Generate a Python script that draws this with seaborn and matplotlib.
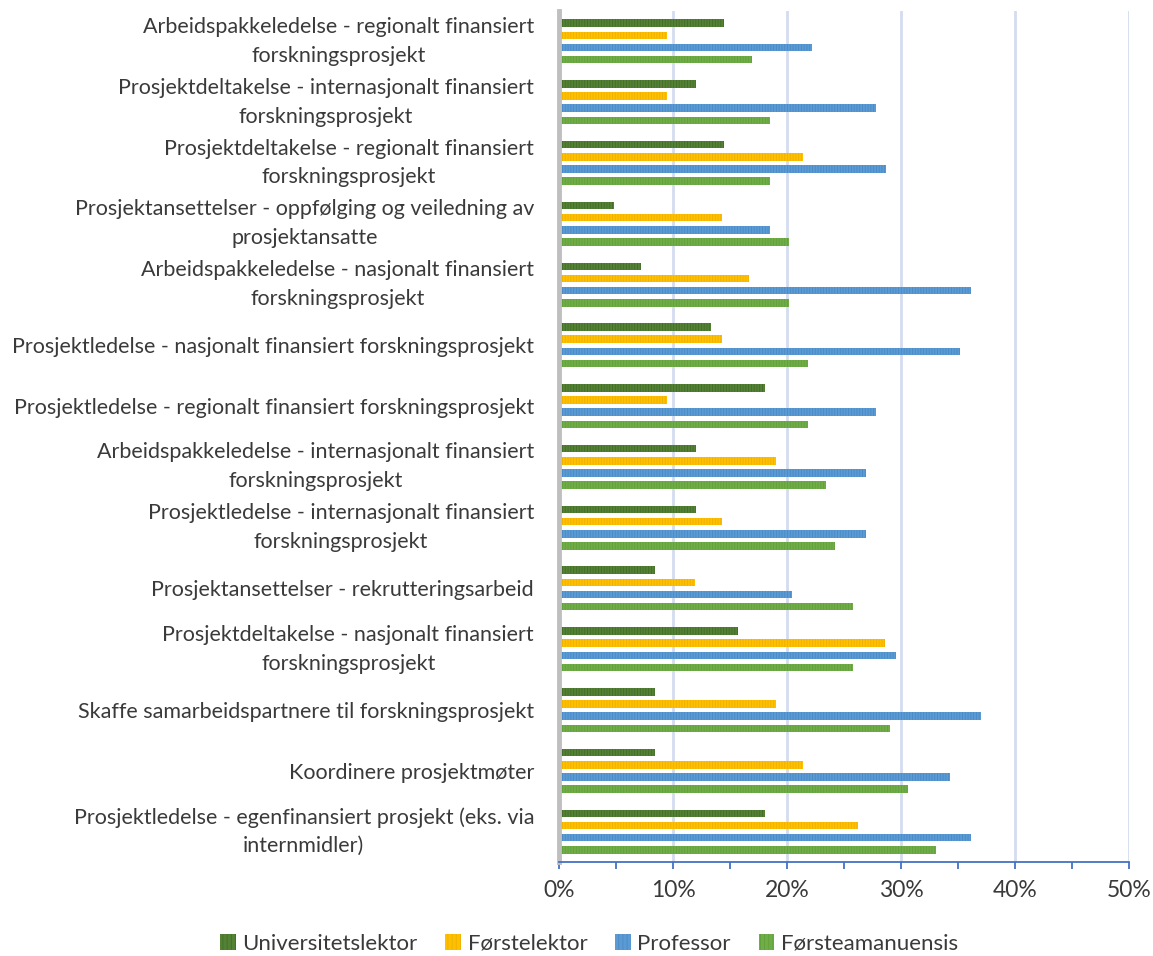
import matplotlib
matplotlib.use("Agg")
import matplotlib.pyplot as plt
import pandas as pd
import seaborn as sns
from matplotlib.ticker import MultipleLocator, FuncFormatter
from matplotlib.patches import Patch

# Activities (top to bottom), with the line breaks used on the axis
categories = [
    "Arbeidspakkeledelse - regionalt finansiert\nforskningsprosjekt",
    "Prosjektdeltakelse - internasjonalt finansiert\nforskningsprosjekt",
    "Prosjektdeltakelse - regionalt finansiert\nforskningsprosjekt",
    "Prosjektansettelser - oppfølging og veiledning av\nprosjektansatte",
    "Arbeidspakkeledelse - nasjonalt finansiert\nforskningsprosjekt",
    "Prosjektledelse - nasjonalt finansiert forskningsprosjekt",
    "Prosjektledelse - regionalt finansiert forskningsprosjekt",
    "Arbeidspakkeledelse - internasjonalt finansiert\nforskningsprosjekt",
    "Prosjektledelse - internasjonalt finansiert\nforskningsprosjekt",
    "Prosjektansettelser - rekrutteringsarbeid",
    "Prosjektdeltakelse - nasjonalt finansiert\nforskningsprosjekt",
    "Skaffe samarbeidspartnere til forskningsprosjekt",
    "Koordinere prosjektmøter",
    "Prosjektledelse - egenfinansiert prosjekt (eks. via\ninternmidler)",
]

roles = ["Universitetslektor", "Førstelektor", "Professor", "Førsteamanuensis"]

# Share of respondents (%)
universitetslektor = [14.5, 12.0, 14.5, 4.8, 7.2, 13.3, 18.1, 12.0, 12.0, 8.4, 15.7, 8.4, 8.4, 18.1]
forstelektor = [9.5, 9.5, 21.4, 14.3, 16.7, 14.3, 9.5, 19.0, 14.3, 11.9, 28.6, 19.0, 21.4, 26.2]
professor = [22.2, 27.8, 28.7, 18.5, 36.1, 35.2, 27.8, 26.9, 26.9, 20.4, 29.6, 37.0, 34.3, 36.1]
forsteamanuensis = [16.9, 18.5, 18.5, 20.2, 20.2, 21.8, 21.8, 23.4, 24.2, 25.8, 25.8, 29.0, 30.6, 33.1]

fill_colors = ["#548235", "#FFC000", "#5B9BD5", "#70AD47"]
stripe_colors = ["#426B29", "#EDB000", "#4A89C4", "#60A03C"]

series = [universitetslektor, forstelektor, professor, forsteamanuensis]
df = pd.DataFrame(
    [(c, r, v) for r, vals in zip(roles, series) for c, v in zip(categories, vals)],
    columns=["Aktivitet", "Stilling", "Andel"],
)

sns.set_theme(style="white")
plt.rcParams["font.family"] = ["Lato", "DejaVu Sans"]
plt.rcParams["hatch.linewidth"] = 0.6

fig = plt.figure(figsize=(11.53, 9.56), dpi=100)
ax = fig.add_axes([559 / 1153, (956 - 862) / 956, 570 / 1153, 851 / 956])

sns.barplot(
    data=df, y="Aktivitet", x="Andel", hue="Stilling",
    order=categories, hue_order=roles, palette=fill_colors, saturation=1,
    orient="h", width=0.8, gap=0.38, ax=ax, legend=False,
)

# Fine vertical stripes on every bar
for container, sc in zip(ax.containers, stripe_colors):
    for bar in container:
        bar.set_hatch("||||||")
        bar.set_edgecolor(sc)
        bar.set_linewidth(0)

ax.set_xlim(0, 50)
ax.set_ylim(len(categories) - 0.5, -0.5)
ax.xaxis.set_major_locator(MultipleLocator(10))
ax.xaxis.set_minor_locator(MultipleLocator(5))
ax.xaxis.set_major_formatter(FuncFormatter(lambda v, _: f"{v:.0f}%"))

ax.grid(axis="x", which="major", color="#D3DCF0", linewidth=2)
ax.grid(axis="y", visible=False)
ax.set_axisbelow(True)

for side in ("top", "right"):
    ax.spines[side].set_visible(False)
ax.spines["left"].set_color("#BFBFBF")
ax.spines["left"].set_linewidth(3.5)
ax.spines["bottom"].set_color("#4472C4")
ax.spines["bottom"].set_linewidth(1.3)

ax.tick_params(axis="x", which="both", bottom=True, direction="out",
               color="#4472C4", width=1.3, length=5)
ax.tick_params(axis="x", which="major", labelsize=16.5, labelcolor="#3A3A3A", pad=8)
ax.tick_params(axis="y", left=False, labelsize=15.5, labelcolor="#3A3A3A", pad=12)
for lbl in ax.get_yticklabels():
    lbl.set_multialignment("center")
    lbl.set_linespacing(1.55)
    if "\n" in lbl.get_text():
        lbl.set_verticalalignment("center")

ax.set_xlabel("")
ax.set_ylabel("")

handles = [Patch(facecolor=fc, edgecolor=sc, hatch="||||", linewidth=0)
           for fc, sc in zip(fill_colors, stripe_colors)]
fig.legend(handles, roles, loc="center", bbox_to_anchor=(589 / 1153, 12 / 956),
           ncol=4, frameon=False, fontsize=16, handlelength=0.7, handleheight=0.7,
           handletextpad=0.3, columnspacing=1.25, labelcolor="#3A3A3A")

fig.savefig("out.png", dpi=100)
